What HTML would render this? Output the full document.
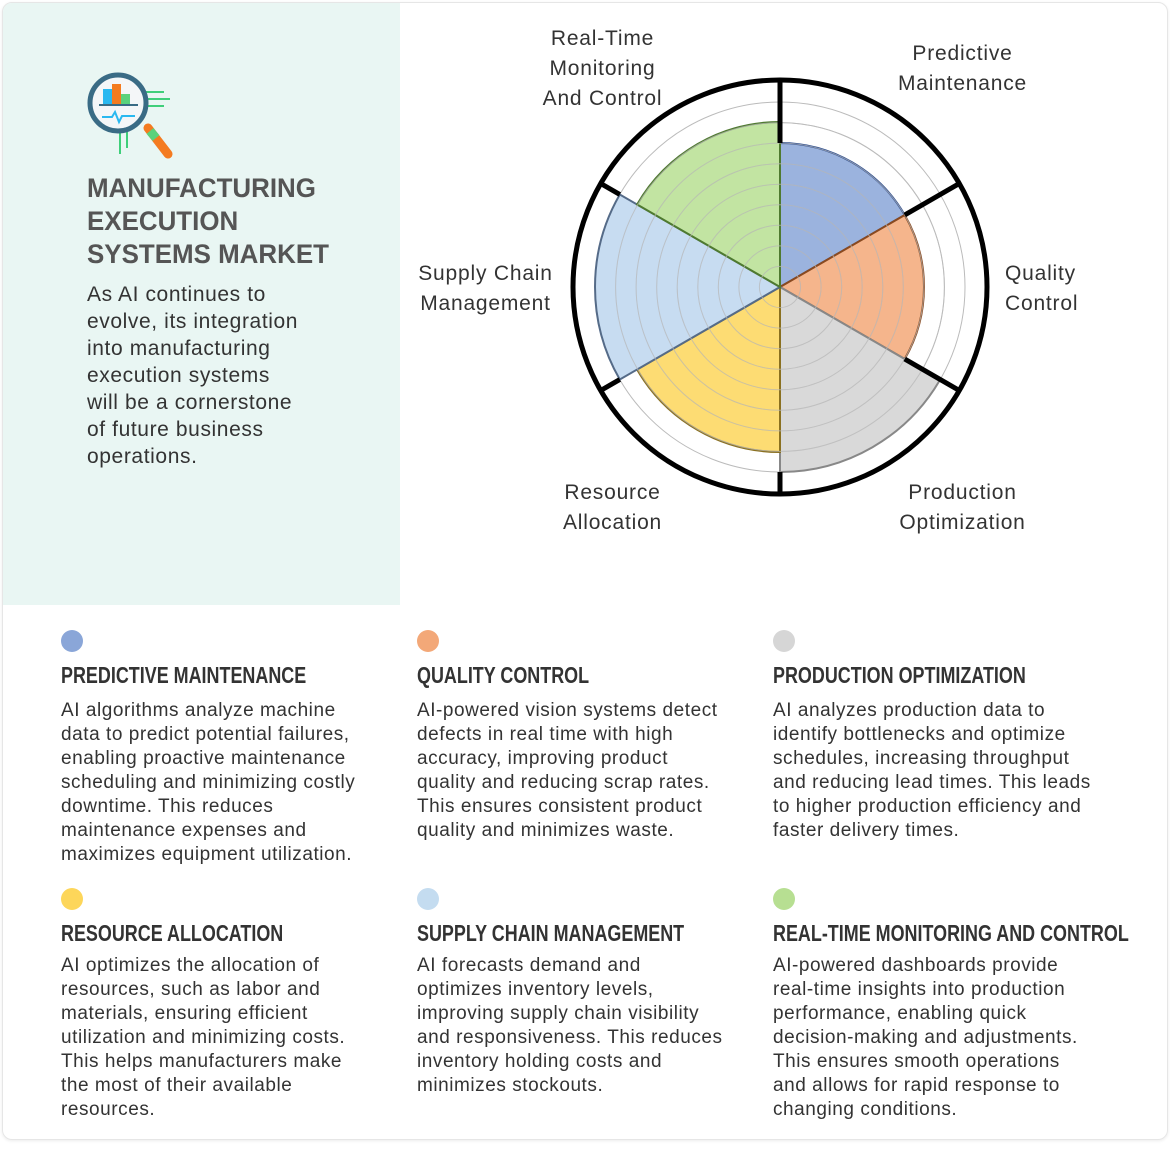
<!DOCTYPE html>
<html><head><meta charset="utf-8"><style>
body{margin:0;width:1170px;height:1149px;background:#fff;font-family:"Liberation Sans",sans-serif;position:relative;overflow:hidden}
.card{position:absolute;left:2px;top:2px;width:1164px;height:1136px;border:1px solid #e6e6e6;border-radius:10px;box-shadow:0 1px 3px rgba(0,0,0,.08)}
.left{position:absolute;left:3px;top:3px;width:397px;height:602px;background:#e9f6f3;border-radius:9px 0 0 0}
.h1{position:absolute;left:87px;top:172px;font-weight:bold;font-size:27px;line-height:33px;color:#555;transform:scaleX(.96);transform-origin:left top;white-space:nowrap}
.intro{position:absolute;left:87px;top:281px;font-size:21px;line-height:27px;color:#333;letter-spacing:.6px;white-space:nowrap}
.lab{position:absolute;font-size:21px;line-height:30px;color:#333;text-align:center;letter-spacing:.8px;white-space:nowrap}
.dot{position:absolute;width:22px;height:22px;border-radius:50%}
.hd{position:absolute;font-size:23px;font-weight:bold;color:#333;white-space:nowrap;transform:scaleX(.78);transform-origin:left top}
.bd{position:absolute;font-size:19px;line-height:24px;color:#333;white-space:nowrap;letter-spacing:.55px}
</style></head><body>
<div class="card"></div>
<div class="left"></div>
<svg style="position:absolute;left:80px;top:66px" width="100" height="96" viewBox="0 0 100 96">
<line x1="60" y1="33" x2="90" y2="33" stroke="#3fcf7a" stroke-width="2"/>
<line x1="60" y1="40" x2="84" y2="40" stroke="#3fcf7a" stroke-width="2"/>
<line x1="60" y1="26" x2="84" y2="26" stroke="#3fcf7a" stroke-width="2"/>
<line x1="40" y1="60" x2="40" y2="88" stroke="#3fcf7a" stroke-width="2"/>
<line x1="47" y1="60" x2="47" y2="82" stroke="#3fcf7a" stroke-width="2"/>
<line x1="68" y1="62" x2="88" y2="88" stroke="#f47b20" stroke-width="9" stroke-linecap="round"/>
<line x1="70" y1="65" x2="76" y2="72" stroke="#5ad27c" stroke-width="9"/>
<circle cx="38" cy="37" r="28" fill="#f4f6f8" stroke="#3a6b85" stroke-width="5"/>
<rect x="23" y="23" width="9" height="15" fill="#2ab8f0"/><rect x="32" y="18" width="9" height="20" fill="#f47b20"/><rect x="41" y="28" width="9" height="10" fill="#5ad27c"/>
<line x1="19" y1="39" x2="58" y2="39" stroke="#3a6b85" stroke-width="2"/>
<polyline points="22,51 32,51 35,46 39,56 42,50 55,50" fill="none" stroke="#2ab8f0" stroke-width="2"/>
</svg>
<div class="h1">MANUFACTURING<br>EXECUTION<br>SYSTEMS MARKET</div>
<div class="intro">As AI continues to<br>evolve, its integration<br>into manufacturing<br>execution systems<br>will be a cornerstone<br>of future business<br>operations.</div>

<svg style="position:absolute;left:0;top:0" width="1170" height="610">
<g stroke="#bbb" stroke-width="1" fill="none">
<circle cx="780" cy="287" r="20.6"/><circle cx="780" cy="287" r="41.1"/><circle cx="780" cy="287" r="61.7"/><circle cx="780" cy="287" r="82.2"/><circle cx="780" cy="287" r="102.8"/><circle cx="780" cy="287" r="123.3"/><circle cx="780" cy="287" r="143.9"/><circle cx="780" cy="287" r="164.4"/><circle cx="780" cy="287" r="185"/>
</g>
<g fill-opacity=".85">
<path d="M780 287 L780 143 A144 144 0 0 1 904.7 215 Z" fill="#8aa6d8" stroke="#2f4f8f" stroke-width="2"/>
<path d="M780 287 L904.7 215 A144 144 0 0 1 904.7 359 Z" fill="#f3a878" stroke="#8a4a20" stroke-width="2"/>
<path d="M780 287 L940.2 379.5 A185 185 0 0 1 780 472 Z" fill="#d2d2d2" stroke="#888" stroke-width="2"/>
<path d="M780 287 L780 452 A165 165 0 0 1 637.1 369.5 Z" fill="#fdd65a" stroke="#8a7020" stroke-width="2"/>
<path d="M780 287 L619.8 379.5 A185 185 0 0 1 619.8 194.5 Z" fill="#bdd6ee" stroke="#556b88" stroke-width="2"/>
<path d="M780 287 L637.1 204.5 A165 165 0 0 1 780 122 Z" fill="#b7df92" stroke="#4f7a30" stroke-width="2"/>
</g>
<g stroke="#bbb" stroke-width="1" fill="none" opacity=".7">
<circle cx="780" cy="287" r="20.6"/><circle cx="780" cy="287" r="41.1"/><circle cx="780" cy="287" r="61.7"/><circle cx="780" cy="287" r="82.2"/><circle cx="780" cy="287" r="102.8"/><circle cx="780" cy="287" r="123.3"/><circle cx="780" cy="287" r="143.9"/><circle cx="780" cy="287" r="164.4"/>
</g>
<g stroke="#000" stroke-width="5">
<line x1="780" y1="80" x2="780" y2="143"/><line x1="780" y1="472" x2="780" y2="494"/>
<line x1="904.7" y1="215" x2="959.3" y2="183.5"/><line x1="904.7" y1="359" x2="959.3" y2="390.5"/>
<line x1="619.8" y1="194.5" x2="600.7" y2="183.5"/><line x1="619.8" y1="379.5" x2="600.7" y2="390.5"/>
</g>
<circle cx="780" cy="287" r="207" fill="none" stroke="#000" stroke-width="5"/>
</svg>
<div class="lab" style="left:520px;top:24px;width:165px">Real-Time<br>Monitoring<br>And Control</div>
<div class="lab" style="left:880px;top:39px;width:165px">Predictive<br>Maintenance</div>
<div class="lab" style="left:403px;top:259px;width:165px">Supply Chain<br>Management</div>
<div class="lab" style="left:1005px;top:259px;width:75px;text-align:left">Quality<br>Control</div>
<div class="lab" style="left:530px;top:478px;width:165px">Resource<br>Allocation</div>
<div class="lab" style="left:880px;top:478px;width:165px">Production<br>Optimization</div>

<div class="dot" style="left:61px;top:630px;background:#8aa6d8"></div>
<div class="dot" style="left:417px;top:630px;background:#f3a878"></div>
<div class="dot" style="left:773px;top:630px;background:#d6d6d6"></div>
<div class="dot" style="left:61px;top:888px;background:#fdd65a"></div>
<div class="dot" style="left:417px;top:888px;background:#c4dcf0"></div>
<div class="dot" style="left:773px;top:888px;background:#b7df92"></div>

<div class="hd" style="left:61px;top:662px">PREDICTIVE MAINTENANCE</div>
<div class="hd" style="left:417px;top:662px">QUALITY CONTROL</div>
<div class="hd" style="left:773px;top:662px">PRODUCTION OPTIMIZATION</div>
<div class="hd" style="left:61px;top:920px">RESOURCE ALLOCATION</div>
<div class="hd" style="left:417px;top:920px">SUPPLY CHAIN MANAGEMENT</div>
<div class="hd" style="left:773px;top:920px">REAL-TIME MONITORING AND CONTROL</div>

<div class="bd" style="left:61px;top:699px">AI algorithms analyze machine<br>data to predict potential failures,<br>enabling proactive maintenance<br>scheduling and minimizing costly<br>downtime. This reduces<br>maintenance expenses and<br>maximizes equipment utilization.</div>
<div class="bd" style="left:417px;top:699px">AI-powered vision systems detect<br>defects in real time with high<br>accuracy, improving product<br>quality and reducing scrap rates.<br>This ensures consistent product<br>quality and minimizes waste.</div>
<div class="bd" style="left:773px;top:699px">AI analyzes production data to<br>identify bottlenecks and optimize<br>schedules, increasing throughput<br>and reducing lead times. This leads<br>to higher production efficiency and<br>faster delivery times.</div>
<div class="bd" style="left:61px;top:954px">AI optimizes the allocation of<br>resources, such as labor and<br>materials, ensuring efficient<br>utilization and minimizing costs.<br>This helps manufacturers make<br>the most of their available<br>resources.</div>
<div class="bd" style="left:417px;top:954px">AI forecasts demand and<br>optimizes inventory levels,<br>improving supply chain visibility<br>and responsiveness. This reduces<br>inventory holding costs and<br>minimizes stockouts.</div>
<div class="bd" style="left:773px;top:954px">AI-powered dashboards provide<br>real-time insights into production<br>performance, enabling quick<br>decision-making and adjustments.<br>This ensures smooth operations<br>and allows for rapid response to<br>changing conditions.</div>
</body></html>
